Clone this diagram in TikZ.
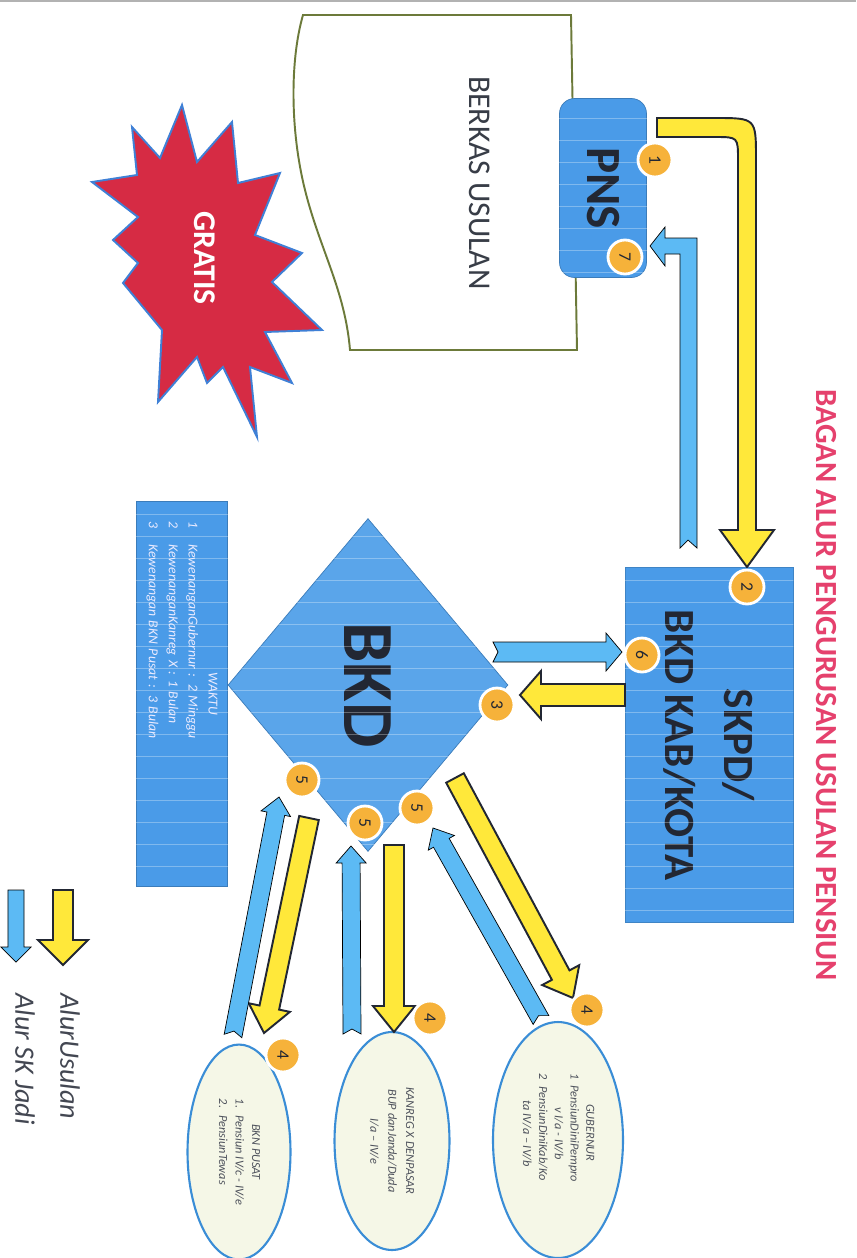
\documentclass[tikz,border=0pt]{standalone}
\usepackage{fontspec}
\setmainfont{Carlito}
\usetikzlibrary{calc,shapes.geometric}

\definecolor{boxblue}{HTML}{4A9BE8}
\definecolor{dmdblue}{HTML}{5AA5EA}
\definecolor{arrblue}{HTML}{5CBAF4}
\definecolor{arryel}{HTML}{FFE83A}
\definecolor{badgeor}{HTML}{F6B23A}
\definecolor{judulpink}{HTML}{E5416D}
\definecolor{starred}{HTML}{D62B44}
\definecolor{starline}{HTML}{3F80D6}
\definecolor{docline}{HTML}{6C7A3A}
\definecolor{ellfill}{HTML}{F5F7E7}
\definecolor{ellline}{HTML}{3A8DD6}
\definecolor{ink}{HTML}{222733}

% block arrow: [style]{from}{to}{half shaft}{half head}{head length}{notch}, in px
\newcommand\blockarrow[7][yarr]{%
  \pgfmathsetmacro\bas{#4*0.02}\pgfmathsetmacro\bah{#5*0.02}%
  \pgfmathsetmacro\bal{#6*0.02}\pgfmathsetmacro\ban{#7*0.02}%
  \coordinate (ba-h) at ($(#3)!\bal cm!(#2)$);
  \draw[#1] ($(#2)!\bas cm!90:(#3)$) -- ($(ba-h)!\bas cm!-90:(#2)$)
    -- ($(ba-h)!\bah cm!-90:(#2)$) -- (#3) -- ($(ba-h)!\bah cm!90:(#2)$)
    -- ($(ba-h)!\bas cm!90:(#2)$) -- ($(#2)!\bas cm!-90:(#3)$)
    -- ($(#2)!\ban cm!(#3)$) -- cycle;}

\begin{document}
\begin{tikzpicture}[x=0.02cm, y=-0.02cm, line join=miter,
  pnsbox/.style={rectangle, rounded corners=0.3cm, draw=boxblue!80!black, fill=boxblue, rotate=-90, minimum width=3.58cm, minimum height=1.74cm, font=\fontsize{28}{28}\selectfont\bfseries, text=ink},
  skpdbox/.style={rectangle, draw=boxblue!85!black, fill=boxblue, rotate=-90, minimum width=7.1cm, minimum height=3.36cm, align=center, font=\fontsize{24.5}{34}\selectfont\bfseries, text=ink},
  bkdshape/.style={diamond, draw=boxblue!80!black, fill=dmdblue, rotate=-90, inner sep=0pt, minimum width=6.66cm, minimum height=5.6cm, font=\fontsize{41}{41}\selectfont\bfseries, text=ink},
  waktubox/.style={rectangle, draw=boxblue!80!black, fill=boxblue, rotate=-90, minimum width=7.7cm, minimum height=1.82cm, text width=6.9cm, align=left, font=\fontsize{7.8}{11.3}\selectfont\itshape, text=white!92!blue},
  ellnode/.style={ellipse, draw=ellline, line width=1.2pt, fill=ellfill, rotate=-90, inner sep=0pt, font=\fontsize{7}{9}\selectfont\itshape, text=ink!80},
  badge/.style={circle, fill=badgeor, draw=white, line width=1.6pt, minimum size=0.68cm, inner sep=0pt, rotate=-90, font=\fontsize{10}{10}\selectfont, text=ink},
  yarr/.style={fill=arryel, draw=ink, line width=1.1pt},
  barr/.style={fill=arrblue},
  legtext/.style={rotate=-90, anchor=west, inner sep=0pt, font=\fontsize{16}{16}\selectfont\itshape, text=ink!85},
  judul/.style={rotate=-90, font=\fontsize{17.5}{17.5}\selectfont\bfseries, text=judulpink}]

\useasboundingbox (0,0) rectangle (856,1258);
\draw[gray!60, line width=1.2pt] (0,1) -- (856,1);

\draw[docline, line width=1.1pt, fill=white] (303,15) -- (571,15) -- (577,350) -- (350,350) .. controls (345,290) and (320,250) .. (305,190) .. controls (290,130) and (290,60) .. (303,15) -- cycle;
\node[rotate=-90, font=\fontsize{18}{18}\selectfont, text=ink!90] (berkas) at (480,183) {BERKAS USULAN};

\draw[starline, line width=1.1pt, fill=starred] (182,105) -- (197,162) -- (232,122) -- (238,183) -- (280,173) -- (255,235) -- (302,253) -- (272,282) -- (322,330) -- (265,332) -- (292,383) -- (250,367) -- (257,437) -- (223,367) -- (207,383) -- (197,357) -- (158,402) -- (162,330) -- (123,283) -- (138,263) -- (113,240) -- (138,217) -- (92,182) -- (137,175) -- (132,127) -- (160,158) -- cycle;
\node[rotate=-90, font=\fontsize{18}{18}\selectfont\bfseries, text=white] (gratis) at (205,258) {GRATIS};

\node[pnsbox] (pns) at (603,188) {PNS};
\node[skpdbox] (skpd) at (709,745) {SKPD/\\BKD KAB/KOTA};
\node[bkdshape] (bkd) at (368,685) {BKD};
\node[waktubox] (waktu) at (182,694) {\makebox[\linewidth]{WAKTU}\\
  1\hspace{3.2mm}KewenanganGubernur : 2 Minggu\\
  2\hspace{3.2mm}KewenanganKanreg X : 1 Bulan\\
  3\hspace{3.2mm}Kewenangan BKN Pusat : 3 Bulan};

\begin{scope}
  \clip (pns.north west) rectangle (pns.south east)
        (skpd.north west) rectangle (skpd.south east)
        (waktu.north west) rectangle (waktu.south east)
        (bkd.north) -- (bkd.east) -- (bkd.south) -- (bkd.west) -- cycle;
  \foreach \yy in {8,30,...,1250}
    \draw[white, opacity=.3, line width=.5pt] (0,\yy) -- (856,\yy);
\end{scope}

\node[ellnode, minimum width=4.72cm, minimum height=2.6cm] (gub) at (558,1140) {%
  \begin{tabular}{@{}l@{\hspace{1.2mm}}c@{\hspace{5mm}}}
  \multicolumn{2}{c@{\hspace{5mm}}}{GUBERNUR}\\
  1 & PensiunDiniPempro\\
    & v I/a - IV/b\\
  2 & PensiunDiniKab/Ko\\
    & ta IV/a – IV/b
  \end{tabular}};
\node[ellnode, minimum width=4.36cm, minimum height=2.3cm, align=center, font=\fontsize{7}{10.2}\selectfont\itshape] (kanreg) at (392,1141) {KANREG X DENPASAR\\BUP danJanda/Duda\\I/a – IV/e};
\node[ellnode, minimum width=4.3cm, minimum height=2.06cm, font=\fontsize{7}{9.4}\selectfont\itshape] (bkn) at (239,1152) {%
  \begin{tabular}{@{}l@{\hspace{1.5mm}}l@{}}
  \multicolumn{2}{c}{BKN PUSAT}\\
  1. & Pensiun IV/c - IV/e\\
  2. & PensiunTewas
  \end{tabular}};

\draw[yarr] (657,118) -- (715,118) .. controls (756,118) .. (756,159) -- (756,530) -- (774,530) -- (747,567) -- (720,530) -- (738,530) -- (738,160) .. controls (738,137) .. (715,137) -- (657,137) -- cycle;
\draw[barr] (680,548) -- (680,254) -- (665,254) -- (665,266) -- (650,246) -- (665,227) -- (665,238) -- (697,238) -- (697,548) -- (688,540) -- cycle;

\coordinate (u3s) at (625,695);  \coordinate (u3e) at (520,695);
\coordinate (u4as) at (455,778); \coordinate (u4ae) at (573,998);
\coordinate (u4bs) at (394,845); \coordinate (u4be) at (394,1032);
\coordinate (u4cs) at (309,818); \coordinate (u4ce) at (264,1033);
\coordinate (j6s) at (493,652);  \coordinate (j6e) at (622,652);
\coordinate (j5as) at (233,1036); \coordinate (j5ae) at (279,797);
\coordinate (j5bs) at (352,1034); \coordinate (j5be) at (351,846);
\coordinate (j5cs) at (541,1020); \coordinate (j5ce) at (433,828);

\blockarrow{u3s}{u3e}{11}{24}{21}{0}
\blockarrow{u4as}{u4ae}{10}{21}{26}{0}
\blockarrow{u4bs}{u4be}{10}{21}{26}{0}
\blockarrow{u4cs}{u4ce}{10}{21}{26}{0}
\blockarrow[barr]{j6s}{j6e}{10}{19}{16}{5}
\blockarrow[barr]{j5as}{j5ae}{9}{15}{17}{5}
\blockarrow[barr]{j5bs}{j5be}{9}{15}{17}{5}
\blockarrow[barr]{j5cs}{j5ce}{9}{15}{17}{5}

\node[badge] (n1) at (655,160) {1};
\node[badge] (n7) at (625,257) {7};
\node[badge] (n2) at (747,587) {2};
\node[badge] (n6) at (642,655) {6};
\node[badge] (n3) at (497,705) {3};
\node[badge] (n5a) at (302,780) {5};
\node[badge] (n5b) at (365,823) {5};
\node[badge] (n5c) at (417,808) {5};
\node[badge] (n4a) at (587,1010) {4};
\node[badge] (n4b) at (430,1018) {4};
\node[badge] (n4c) at (283,1055) {4};

\node[judul] (judul) at (826,685) {BAGAN ALUR PENGURUSAN USULAN PENSIUN};

\coordinate (legus1) at (63,890);  \coordinate (legus2) at (63,965);
\coordinate (legsk1) at (16,890);  \coordinate (legsk2) at (16,962);
\blockarrow{legus1}{legus2}{10}{25}{25}{0}
\blockarrow[barr]{legsk1}{legsk2}{8}{15}{15}{0}
\node[legtext] (legus) at (70,993) {AlurUsulan};
\node[legtext] (legsk) at (25,993) {Alur SK Jadi};
\end{tikzpicture}
\end{document}
